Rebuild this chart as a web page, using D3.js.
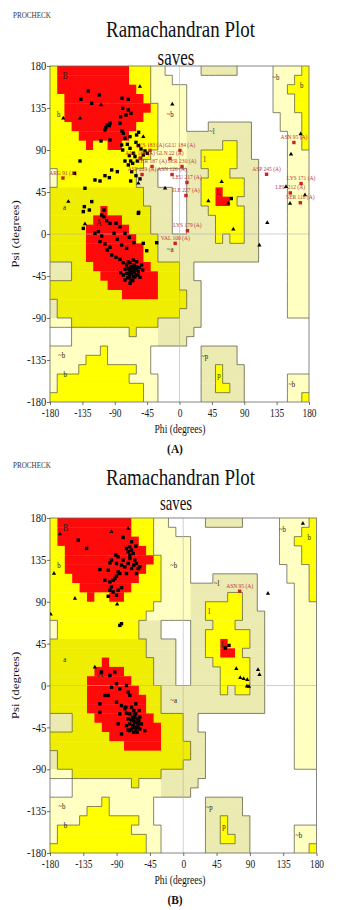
<!DOCTYPE html>
<html><head><meta charset="utf-8">
<script src="https://cdnjs.cloudflare.com/ajax/libs/d3/7.8.5/d3.min.js"></script>
<style>
body{margin:0;background:#fff}
svg{display:block}
text{font-family:"Liberation Serif","Times New Roman",serif}
</style>
</head><body>
<svg id="c" width="351" height="910"></svg>
<script>
// ---- PROCHECK region map: 36 rows (psi 180 -> -180) x 36 cols (phi -180 -> 180), 10 degree cells
// R core, Y/y allowed, C/K generously allowed, . disallowed
const regionGrid = [
"YRRRRRRRRRRYYYCC.....KKKKK.....CCCCY",
"YRRRRRRRRRRYYYCCC..............CCCYY",
"YRRRRRRRRRRRYYCCCCC............CCYYY",
"YYRRRRRRRRRRRYCCCCC............CCCYY",
"YYRRRRRRRRRRRRYCCCC............CCCYY",
"YYRRRRRRRRRRRYYCCCC.............CCCY",
"YYYRRRRRRRRRYYYCCCC...KKKKKK....CCCY",
"YYYYRRRRRRRYYYYCCCCKKKKKKKKK.....CCY",
"YYYYYRYYRRYYYYYCCCCKKKKKYYKK.....CCY",
"YYYYYYYYYYYYYYCCCCCKKYYYYYKK.....CCC",
"YYYYYYYYYYYYYCCCCCCKKYYYYYKKK....CCC",
"CYYYYYYYYYYYKKK....KKKYYYKKKK....CCC",
"CYYYYYYYYYYYKKK....KKYYYYYYKK....CCC",
"yyyyyyyyyyyyyKKKK..KKYYRYYYKK....CCC",
"yyyyyyyyyyyyyKKKK..KKYYRRYKKK....CCC",
"yyyyyyyRyyyyyyKKK..KKKYYYYYKK....CCC",
"yyyyyyRRRRyyyyKKK..KKKKYYYYKK....CCC",
"yyyyyRRRRRRyyyKKK..KKKKYYYYKK....CCC",
"yyyyyRRRRRRRyyyKKKKKKKKYKYYKK....CCC",
"yyyyyRRRRRRRRyyKKKKKKKKKKKKKK....CCC",
"yyyyyRRRRRRRRyyKKKKKKKKKKKKKK....CCC",
"KKKyyyRRRRRRRRyyyyKK.............CCC",
"KKKyyyyRRRRRRRRyyyKK.............CCC",
"yyyyyyyyRRRRRRRyyyKKK............CCC",
"yyyyyyyyyyRRRRRyyyyKK............CCC",
"KyyyyyyyyyyyyyyyyyyKK............CCC",
"KyyyyyyyyyyyyyyyyyKKK............CCC",
"CCCyyyyyyyyyyyyKKKKKK...............",
"...CCCCCCCCyCCCKKKKK................",
"...CCCCCCCCCCCCKKKK.................",
"CCCCCCCYCCCCCC.......KKKKK..........",
"CCCCCYYYCCCCCC.......KKKKK..........",
"CCCCYYYYYYYYCC.......KKYKKK.........",
"CYYYYYYYYYYCCCC......KKYKKK......CCC",
"CYYYYYYYYYYYYCC......KKYYKK......CCC",
"YYYYYYYYYYYYYCC......KKKKKK......CCY"
];
const regionFill = {R:"#ff0a0a", Y:"#ffff00", y:"#efed00", C:"#ffffc2", K:"#ebeab0"};
const angleTicks = [-180,-135,-90,-45,0,45,90,135,180];

const regionLabels   = ["B","b","a","A","~b","~a","~l","l","L","~b","b","~b","b","~p","p","~b"];
const regionLabelPhi = [-159,-168,-160,-112,-13,-13,45,35,54,134,170,-164,-159,35,55,156];
const regionLabelPsi = [169,129,29,12,129,-16,110,80,45,168,160,-130,-150,-131,-151,-161];

// ---- Plot (A): residues (squares), glycines (triangles), labelled residues
const plotA_residues = [
[-126.7,153.2],[-137,144.3],[-122,140],[-111.4,149],[-102.2,114],[-100.3,116.8],[-97.5,116.1],[-103.6,111.4],
[-96.6,118.6],[-80,145.4],[-71.1,144.3],[-79,134.7],[-71.1,132.9],[-74.4,127.5],[-67.4,129.3],[-81.8,125.7],
[-82.7,118.6],[-80,110.4],[-78.1,107.9],[-68.8,104.3],[-75.8,102.5],[-59.6,106.1],[-56.8,109],[-109.1,99.7],
[-96.6,100.7],[-80.4,95.4],[-72.5,96.1],[-79,90],[-68.8,91.8],[-60.5,98.2],[-57.2,94.7],[-53.5,91.1],[-48,89],
[-44.7,86.5],[-64.2,86.5],[-69.7,84],[-61.9,82.9],[-67.9,78.2],[-58.6,78.2],[-54,81.1],[-71.1,74],[-65.1,75.7],
[-75.8,78.2],[-50.3,84.7],[-138.3,78.2],[-94.3,68.6],[-103.6,62.5],[-86.4,66.8],[-97.5,60.4],[-110.5,56.8],
[-117.5,57.9],[-131.4,49],[-66.5,66.8],[-60.5,62.5],[-67.9,56.8],[-54.9,59],[-146.2,65],
[-132.3,29.3],[-122,34.7],[-125.3,25.7],[-133.7,24],[-105,25.7],[-56.8,23.2],
[-133.7,6],[-108.2,20.3],[-105,18.5],[-101.2,14.3],[-96.6,11.4],[-88.3,11.4],[-82.7,7.8],[-75.8,0.7],
[-69.7,-3.6],[-63.3,-9.3],[-57.2,22.1],[-50.3,-10],[-45.6,-17.9],[-31.7,-9.3],[-117.5,0.7],[-112.8,2.5],
[-108.2,-2.2],[-110.5,-8.2],[-103.6,-10.7],[-96.6,-14.3],[-91,0.7],[-86.4,-5.7],[-80.4,-11.8],[-73.5,-15.4],
[-100.3,-17.2],[-94.3,-22.5],[-88.3,-25],[-82.7,-27.2],[-78.1,-30.7],[-68.8,-30.7],[-73.5,-33.2],[-71.1,-36.8],
[-68.8,-40.4],[-66.5,-42.9],[-64.2,-45.7],[-61.9,-38.6],[-59.6,-35],[-63.2,-33.2],[-69.7,-45.7],[-73.5,-42.2],
[-67.4,-49.3],[-60.5,-43.9],[-57.2,-40.4],[-65.1,-37.9],[-75.8,-37.9],[-54.9,-46.4],[-78.1,-44],[-71.1,-29.7],
[-59.6,-29.7],[-52.6,-33.2],[-51.2,-38.6],[-68.8,-52.9],[-75.8,-49.3],[-81.8,-41.4],[-64.2,-27.9],
[-66,-39],[-63,-41],[-70,-38],[-62,-46],[-58,-44],[-67,-35],[-72,-47],[-65,-50],[-60,-38],[-56,-36],[-69,-43],[-64,-36],
[72,38]
];
const plotA_glycines = [
[-109,138.2],[-138.3,124],[-50.3,104.3],[-55,157.9],[-161.5,124],[-10,139],[-57.2,54.3],[-154.5,34.7],
[-131.4,10.7],[-20,49],[58.6,56.1],[40.1,35.4],[67.9,32.9],[155,85.4],[168.4,107.2],[148,50.7],[174.4,41.8],
[74.8,5],[122,12],[111,-12],[153.6,32.8]
];
const plotA_labelNames = ["ARG 91 (A)","LYS 183 (A)","GLU 184 (A)","ALA 186 (A)","GLN 22 (A)","THR 187 (A)",
"SER 230 (A)","ASP 229 (A)","ASN 126 (A)","LEU 217 (A)","ILE 227 (A)","LYS 179 (A)","VAL 100 (A)",
"ASN 95 (A)","ASP 245 (A)","LYS 171 (A)","LEU 212 (A)","SER 118 (A)"];
const plotA_labelPhi = [-162,-41,0.7,-54.9,-13.2,-38.2,3.5,-52.1,-10.4,10.4,9,11,-6,159,121,169,154,168];
const plotA_labelPsi = [60,89.5,89.5,80.9,80.9,72.3,72.3,63.7,63.7,55.2,41.2,3.5,-10,98,64,54,44,33.5];

// ---- Plot (B)
const plotB_residues = [
[-141.8,156.3],[-130.6,147.3],[-81.2,159.1],[-76.7,147.3],[-74.4,143.7],[-72.2,140.1],[-69.9,145.5],[-67.7,141.9],
[-65.4,134.7],[-63.2,131.1],[-60.9,125.7],[-72.2,136.5],[-81.2,134.7],[-78.9,127.5],[-76.7,120.3],[-83.4,129.3],
[-87.9,138.3],[-96.9,134.7],[-99.1,131.8],[-90.2,131.1],[-91.1,140.1],[-85.7,120.3],[-112.6,124.6],[-101.4,123.9],
[-105.9,113.1],[-99.1,111.3],[-94.7,113.1],[-92.4,115],[-90.2,117.5],[-87.9,122.1],[-96.9,106],[-99.1,102.4],
[-94.7,100.6],[-90.2,97],[-87.9,102.4],[-83.4,105.2],[-101.4,95.9],[-72.2,149.1],[-69.9,154.5],[-64.1,149.8],
[-58.7,127.5],[-63.2,120.3],[-66.8,129.3],[-74.4,131.1],[-69.9,125.7],[-83.4,66.4],[-85.7,64.6],
[-110.4,14.4],[-99.1,10.8],[-92.4,14.4],[-90.2,1.8],[-96.9,-1.8],[-85.7,-3.6],[-76.7,0],[-74.4,-7.2],
[-72.2,-10.7],[-101.4,-10.7],[-105.9,-10.7],[-112.6,-19.7],[-112.6,-28.7],[-90.2,-17.9],[-83.4,-21.5],
[-78.9,-25.1],[-76.7,-29.8],[-85.7,-30.5],[-87.9,-41.3],[-83.4,-52.1],[-72.2,-48.5],[-52,-48.5],[-69.9,-23.3],
[-66.8,-26.9],[-64.1,-30.5],[-68.6,-34.1],[-62.3,-35.9],[-65.4,-39.5],[-60.9,-41.3],[-67.7,-43.1],[-63.2,-44.9],
[-72.2,-41.3],[-58.7,-34.1],[-74.4,-35.9],[-64.1,-19.7],[-59.6,-26.9],[-69.9,-46.7],[-58.7,-46.7],[-66.8,-50.3],
[-76.7,-43.1],[-72.2,-30.5],[-62.3,-50.3],[-77.6,-23.3],[-65.4,-34.1],[-74.4,-47.8],[-56.5,-41.3],
[-67,-38],[-63,-40],[-70,-37],[-61,-45],[-66,-31],[-60,-38],[-68,-45],[-64,-48],
[56.8,40.2],[61.8,43]
];
const plotB_glycines = [
[-166.6,162.7],[-174.6,120.3],[-146.3,93.4],[-179.1,76.5],[-74.4,168.8],[-96.9,165.2],[-89.3,87.3],
[-119.4,19.7],[161.6,174],[114.4,98.8],[71.7,18],[101,17],[103,11.5],[77,8.3],[81.6,7.2],[86.5,6.1],
[86,-0.7],[88.8,-1]
];
const plotB_labelNames = ["ASN 95 (A)"];
const plotB_labelPhi = [76.2];
const plotB_labelPsi = [101.3];

const panels = [
  {left:50, right:309, top:66, bottom:402, procY:17.5, titleY:37.3, savesY:64.5, savesSize:23, caption:"(A)",
   residues:plotA_residues, gly:plotA_glycines, names:plotA_labelNames, lphi:plotA_labelPhi, lpsi:plotA_labelPsi},
  {left:50, right:316.5, top:518, bottom:853, procY:467.5, titleY:485, savesY:509.5, savesSize:20, caption:"(B)",
   residues:plotB_residues, gly:plotB_glycines, names:plotB_labelNames, lphi:plotB_labelPhi, lpsi:plotB_labelPsi}
];

const svg = d3.select("#c");

function addText(g, x, y, str, o) {
  return g.append("text")
    .attr("transform", `translate(${x},${y}) scale(${o.sx ?? 0.8},${o.sy ?? 1})` + (o.rot ? ` rotate(${o.rot})` : ""))
    .attr("text-anchor", o.anchor || "middle")
    .attr("font-size", o.size)
    .attr("font-weight", o.weight || "normal")
    .attr("fill", o.fill || "#111")
    .text(str);
}

function drawPanel(p, idx) {
  const g = svg.append("g");
  const x = d3.scaleLinear().domain([-180,180]).range([p.left, p.right]);
  const y = d3.scaleLinear().domain([-180,180]).range([p.bottom, p.top]);
  const clipId = "clip" + idx;
  g.append("clipPath").attr("id", clipId).append("rect")
    .attr("x", p.left).attr("y", p.top).attr("width", p.right - p.left).attr("height", p.bottom - p.top);
  const plot = g.append("g").attr("clip-path", `url(#${clipId})`);

  // region cells (merged horizontal runs)
  regionGrid.forEach((row, r) => {
    let c = 0;
    while (c < 36) {
      const ch = row[c]; let e = c;
      while (e + 1 < 36 && row[e + 1] === ch) e++;
      if (ch !== ".") {
        const x0 = x(-180 + 10 * c), x1 = x(-170 + 10 * e);
        const y0 = y(180 - 10 * r), y1 = y(170 - 10 * r);
        plot.append("rect").attr("x", x0).attr("y", y0)
          .attr("width", x1 - x0 + 0.35).attr("height", y1 - y0 + 0.35)
          .attr("fill", regionFill[ch]);
      }
      c = e + 1;
    }
  });

  // region boundary lines
  const lvl = ch => ch === "." ? 0 : (ch === "C" || ch === "K") ? 1 : ch === "R" ? 3 : 2;
  let d = "";
  for (let r = 0; r < 36; r++) {
    for (let c = 0; c < 36; c++) {
      const a = lvl(regionGrid[r][c]);
      if (c < 35) {
        const b = lvl(regionGrid[r][c + 1]);
        if (a !== b && Math.min(a, b) < 2) {
          const xx = x(-170 + 10 * c);
          d += `M${xx},${y(180 - 10 * r)}V${y(170 - 10 * r)}`;
        }
      }
      if (r < 35) {
        const b = lvl(regionGrid[r + 1][c]);
        if (a !== b && Math.min(a, b) < 2) {
          const yy = y(170 - 10 * r);
          d += `M${x(-180 + 10 * c)},${yy}H${x(-170 + 10 * c)}`;
        }
      }
    }
  }
  plot.append("path").attr("d", d).attr("fill", "none").attr("stroke", "#46463a").attr("stroke-width", 0.65);

  // zero grid lines
  plot.append("line").attr("x1", x(0)).attr("x2", x(0)).attr("y1", p.top).attr("y2", p.bottom)
    .attr("stroke", "#b4b4b4").attr("stroke-width", 0.6);
  plot.append("line").attr("x1", p.left).attr("x2", p.right).attr("y1", y(0)).attr("y2", y(0))
    .attr("stroke", "#b4b4b4").attr("stroke-width", 0.6);

  // region letters
  regionLabels.forEach((t, i) => {
    addText(plot, x(regionLabelPhi[i]), y(regionLabelPsi[i]) + 3, t,
      {size: t === "B" || t === "A" ? 10 : 8.5, sx: 0.8, fill: "#222"});
  });

  // residues
  const s = 3.4;
  plot.selectAll(null).data(p.residues).enter().append("rect")
    .attr("x", dd => x(dd[0]) - s / 2).attr("y", dd => y(dd[1]) - s / 2)
    .attr("width", s).attr("height", s).attr("fill", "#000");
  const tri = d3.symbol().type(d3.symbolTriangle).size(8);
  plot.selectAll(null).data(p.gly).enter().append("path")
    .attr("d", tri).attr("transform", dd => `translate(${x(dd[0])},${y(dd[1])})`).attr("fill", "#000");
  p.names.forEach((nm, i) => {
    const px = x(p.lphi[i]), py = y(p.lpsi[i]);
    plot.append("rect").attr("x", px - s / 2).attr("y", py - s / 2).attr("width", s).attr("height", s).attr("fill", "#cc2222");
  });
  p.names.forEach((nm, i) => {
    addText(g, x(p.lphi[i]), y(p.lpsi[i]) - 3.5, nm, {size: 6.5, sx: 0.85, fill: "#c0353a"});
  });

  // frame
  g.append("rect").attr("x", p.left).attr("y", p.top).attr("width", p.right - p.left).attr("height", p.bottom - p.top)
    .attr("fill", "none").attr("stroke", "#666").attr("stroke-width", 0.8);

  // axes
  const fmt = v => String(v);
  const ay = g.append("g").attr("transform", `translate(${p.left},0)`)
    .call(d3.axisLeft(y).tickValues(angleTicks).tickSize(3).tickPadding(1).tickFormat(fmt));
  const ax = g.append("g").attr("transform", `translate(0,${p.bottom})`)
    .call(d3.axisBottom(x).tickValues(angleTicks).tickSize(3).tickPadding(3.5).tickFormat(fmt));
  [ay, ax].forEach(a => {
    a.select(".domain").remove();
    a.selectAll(".tick line").attr("stroke", "#333").attr("stroke-width", 0.7);
    a.selectAll(".tick text").attr("font-size", 11.5).attr("fill", "#1a1a1a")
      .attr("font-family", '"Liberation Serif","Times New Roman",serif');
  });
  ay.selectAll(".tick text").attr("transform", "scale(0.92,1)");
  ax.selectAll(".tick text").attr("transform", "scale(0.82,1)");

  // texts
  addText(g, 13, p.procY, "PROCHECK", {size: 7.5, sx: 0.95, anchor: "start", fill: "#333"});
  addText(g, 180.5, p.titleY, "Ramachandran Plot", {size: 23.7, sx: 0.8});
  addText(g, 176, p.savesY, "saves", {size: p.savesSize, sx: 0.74});
  addText(g, 180, p.bottom + 30.5, "Phi (degrees)", {size: 11.6, sx: 0.83});
  addText(g, 19, (p.top + p.bottom) / 2, "Psi (degrees)", {size: 13, sx: 0.85, rot: -90});
  addText(g, 175, p.bottom + 51, p.caption, {size: 12, sx: 0.95, weight: "bold"});
}

panels.forEach(drawPanel);
</script>
</body></html>
